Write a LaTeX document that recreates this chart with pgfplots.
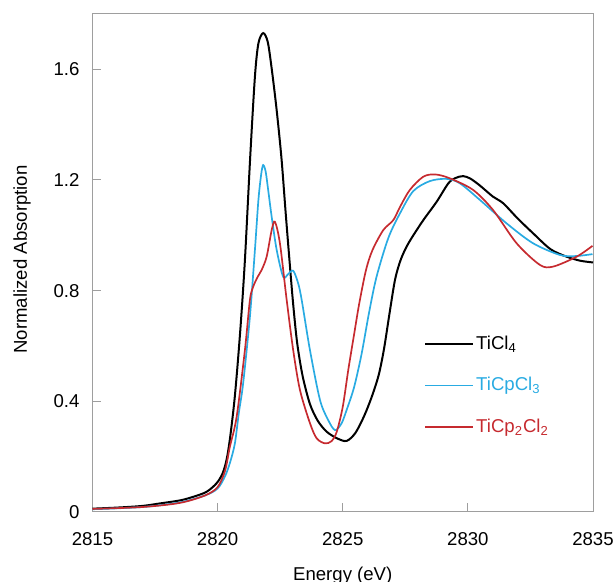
\documentclass[border=0pt]{standalone}
\usepackage{fontspec}
\setmainfont{Liberation Sans}
\usepackage{pgfplots}
\pgfplotsset{compat=1.18}
\definecolor{tiblue}{HTML}{29ABE2}
\definecolor{tired}{HTML}{C62A2F}
\definecolor{axgray}{HTML}{9E9E9E}

\pgfplotstableread{
E A
2815 0.012
2816 0.016
2817 0.022
2817.7 0.031
2818.5 0.042
2819.03 0.055
2819.56 0.073
2819.96 0.104
2820.2 0.14
2820.36 0.19
2820.5 0.27
2820.69 0.42
2820.9 0.65
2821.09 0.91
2821.3 1.28
2821.49 1.573
2821.63 1.694
2821.82 1.731
2822.0 1.70
2822.15 1.61
2822.35 1.46
2822.55 1.28
2822.72 1.08
2822.88 0.90
2823.02 0.75
2823.18 0.61
2823.4 0.49
2823.69 0.39
2824.0 0.33
2824.36 0.29
2824.8 0.265
2825.16 0.257
2825.5 0.285
2825.82 0.34
2826.05 0.39
2826.25 0.44
2826.45 0.50
2826.65 0.59
2826.89 0.73
2827.09 0.84
2827.29 0.905
2827.5 0.95
2827.75 0.99
2828.22 1.055
2828.75 1.121
2829.22 1.188
2829.5 1.207
2829.81 1.214
2830.1 1.205
2830.48 1.18
2831.0 1.14
2831.41 1.116
2832.0 1.06
2832.61 1.007
2833.3 0.95
2833.94 0.923
2834.5 0.908
2835 0.902
}\ticl

\pgfplotstableread{
E A
2815 0.010
2817 0.018
2818.5 0.035
2819.5 0.060
2820 0.085
2820.3 0.13
2820.5 0.18
2820.69 0.248
2820.85 0.36
2821.02 0.465
2821.29 0.706
2821.49 0.947
2821.63 1.128
2821.74 1.22
2821.82 1.254
2821.92 1.23
2822.02 1.164
2822.16 1.067
2822.36 0.947
2822.62 0.85
2822.82 0.86
2823.02 0.872
2823.22 0.826
2823.36 0.766
2823.69 0.585
2824.09 0.405
2824.42 0.332
2824.69 0.296
2824.95 0.32
2825.16 0.37
2825.45 0.45
2825.75 0.57
2826.05 0.72
2826.35 0.85
2826.82 0.99
2827.29 1.08
2827.82 1.16
2828.48 1.196
2829.15 1.204
2829.68 1.188
2830.48 1.128
2831.55 1.043
2832.61 0.971
2833.68 0.929
2834.3 0.925
2834.98 0.932
}\ticp

\pgfplotstableread{
E A
2815 0.011
2817 0.018
2818.5 0.033
2819.5 0.060
2820 0.09
2820.3 0.15
2820.49 0.236
2820.76 0.344
2821.09 0.585
2821.29 0.766
2821.42 0.814
2821.6 0.85
2821.76 0.875
2821.96 0.923
2822.16 1.019
2822.29 1.049
2822.49 0.971
2822.76 0.766
2823.02 0.585
2823.29 0.441
2823.69 0.321
2823.96 0.266
2824.29 0.248
2824.55 0.256
2824.76 0.29
2825.0 0.38
2825.22 0.513
2825.45 0.64
2825.66 0.754
2825.93 0.875
2826.19 0.947
2826.62 1.019
2827.02 1.055
2827.29 1.103
2827.68 1.164
2828.22 1.212
2828.7 1.22
2829.28 1.206
2830.21 1.164
2831.01 1.091
2831.95 0.971
2832.88 0.893
2833.41 0.887
2834.35 0.923
2834.98 0.962
}\ticpp

\begin{document}
\begin{tikzpicture}
\begin{axis}[
  at={(0,0)}, anchor=south west,
  scale only axis, width=250.25pt, height=249pt,
  xmin=2815, xmax=2835, ymin=0, ymax=1.8,
  xtick={2815,2820,2825,2830,2835},
  xticklabels={2815,2820,2825,2830,2835},
  ytick={0,0.4,0.8,1.2,1.6},
  yticklabels={0,0.4,0.8,1.2,1.6},
  tick align=inside, tick pos=left,
  major tick length=4.5pt,
  axis line style={axgray, line width=0.5pt},
  tick style={axgray, line width=0.5pt},
  font=\fontsize{9.3}{11}\selectfont,
  xticklabel style={yshift=-6.5pt},
  yticklabel style={xshift=-3pt},
  xlabel={Energy (eV)},
  ylabel={Normalized Absorption},
  xlabel style={at={(axis description cs:0.5,-0.1285)}, anchor=center},
  ylabel style={at={(axis description cs:-0.1409,0.507)}, anchor=center},
  legend style={draw=none, fill=none, at={(axis cs:2828.0,0.66)}, anchor=north west,
    row sep=10.5pt, nodes={inner sep=1pt}},
  legend cell align=left,
  legend image code/.code={\draw[#1] (0pt,0pt) -- (24pt,0pt);},
]
\addplot[black, line width=1pt, smooth, tension=0.5] table[x=E, y=A] {\ticl};
\addlegendentry{TiCl\textsubscript{4}}
\addplot[tiblue, line width=0.85pt, smooth, tension=0.5] table[x=E, y=A] {\ticp};
\addlegendentry{\textcolor{tiblue}{TiCpCl\textsubscript{3}}\rule[-7.5pt]{0pt}{7.5pt}}
\addplot[tired, line width=0.85pt, smooth, tension=0.5] table[x=E, y=A] {\ticpp};
\addlegendentry{\textcolor{tired}{TiCp\textsubscript{2}Cl\textsubscript{2}}}
\end{axis}
\pgfresetboundingbox
\path[use as bounding box] (-46.25pt,-35pt) rectangle (261.75pt,256pt);
\end{tikzpicture}
\end{document}
